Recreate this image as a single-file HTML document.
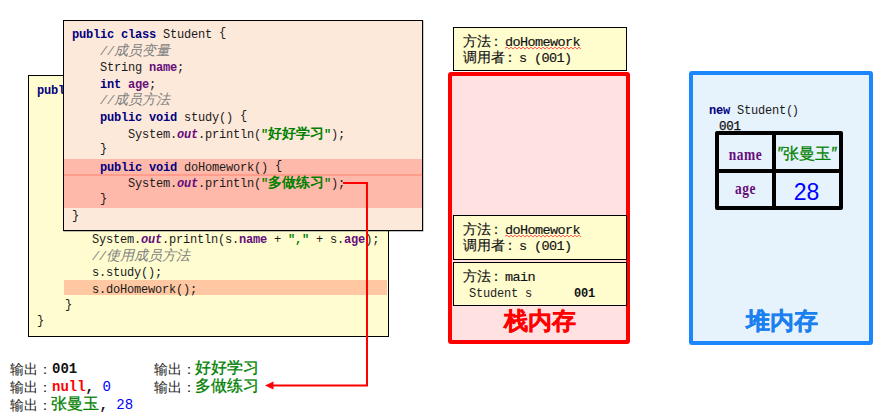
<!DOCTYPE html>
<html><head><meta charset="utf-8">
<style>
html,body{margin:0;padding:0;}
body{width:887px;height:416px;overflow:hidden;background:#fff;position:relative;font-family:'Liberation Sans', sans-serif;}
.abs{position:absolute;box-sizing:border-box;}
.cl{position:absolute;white-space:pre;font:12px/16.6px 'Liberation Mono', monospace;letter-spacing:-0.2px;color:#1a1a1a;}
.cl b,.cl i{font-weight:bold;font-style:normal;}
.cj{font-size:14px;letter-spacing:0;line-height:0;}
.br{position:relative;top:-2px;}
.kw{color:#000080;}
.fd{color:#660e7a;}
.cl b.ot{color:#660e7a;font-style:italic;}
.st{color:#008000;}
.cl i.cm{color:#808080;font-weight:normal;font-style:italic;}
#back{left:28px;top:75px;width:361px;height:262px;border:1px solid #000;background:#fffdd0;}
#front{left:63px;top:20px;width:360px;height:211px;border:1px solid #000;background:#fde9da;box-shadow:0.4px 0.4px 0.3px rgba(0,0,0,.5);}
#hl1{left:64px;top:159px;width:358px;height:49px;background:#ffb9aa;}
#hl1line{left:64px;top:174px;width:358px;height:2px;background:#ff9c8c;}
#hl2{left:64px;top:280px;width:323px;height:15px;background:#ffc8a2;}
.sbox{position:absolute;box-sizing:border-box;border:1px solid #000;background:#fffcce;}
.st1{position:absolute;white-space:pre;font:13.5px/16px 'Liberation Mono', monospace;letter-spacing:-0.6px;color:#111;-webkit-text-stroke:0.15px #111;}
.cn{position:relative;left:-2.5px;}
.st1 .cj{font-size:14px;line-height:0;letter-spacing:0;}
.o{position:absolute;white-space:pre;font:14px/18px 'Liberation Sans', sans-serif;color:#222;}
.ol{position:absolute;white-space:pre;font:bold 14px/18px 'Liberation Mono', monospace;color:#111;}
.og{position:absolute;white-space:pre;font:16px/18px 'Liberation Sans', sans-serif;color:#008000;-webkit-text-stroke:0.3px #008000;}
</style></head><body>
<div class="abs" id="back"></div>
<div class="abs" id="hl2"></div>
<div class="cl" style="left:37px;top:82.70px"><b class="kw">public</b> <b class="kw">class</b> Demo01Student <span class="br">{</span></div>
<div class="cl" style="left:92px;top:232.10px">System.<b class="ot">out</b>.println(s.<b class="fd">name</b> + <b class="st">","</b> + s.<b class="fd">age</b>);</div>
<div class="cl" style="left:92px;top:248.70px"><i class="cm">//<span class="cj">使用成员方法</span></i></div>
<div class="cl" style="left:92px;top:265.30px">s.study();</div>
<div class="cl" style="left:92px;top:281.90px">s.doHomework();</div>
<div class="cl" style="left:65px;top:298.50px"><span class="br">}</span></div>
<div class="cl" style="left:37px;top:315.10px"><span class="br">}</span></div>

<div class="abs" id="front"></div>
<div class="abs" id="hl1"></div>
<div class="abs" id="hl1line"></div>
<div class="cl" style="left:72px;top:26.90px"><b class="kw">public</b> <b class="kw">class</b> Student <span class="br">{</span></div>
<div class="cl" style="left:100px;top:43.50px"><i class="cm">//<span class="cj">成员变量</span></i></div>
<div class="cl" style="left:100px;top:60.10px">String <b class="fd">name</b>;</div>
<div class="cl" style="left:100px;top:76.70px"><b class="kw">int</b> <b class="fd">age</b>;</div>
<div class="cl" style="left:100px;top:93.30px"><i class="cm">//<span class="cj">成员方法</span></i></div>
<div class="cl" style="left:100px;top:109.90px"><b class="kw">public</b> <b class="kw">void</b> study() <span class="br">{</span></div>
<div class="cl" style="left:128px;top:126.50px">System.<b class="ot">out</b>.println(<b class="st">"<span class="cj">好好学习</span>"</b>);</div>
<div class="cl" style="left:100px;top:143.10px"><span class="br">}</span></div>
<div class="cl" style="left:100px;top:159.70px"><b class="kw">public</b> <b class="kw">void</b> doHomework() <span class="br">{</span></div>
<div class="cl" style="left:128px;top:176.30px">System.<b class="ot">out</b>.println(<b class="st">"<span class="cj">多做练习</span>"</b>);</div>
<div class="cl" style="left:100px;top:192.90px"><span class="br">}</span></div>
<div class="cl" style="left:72px;top:209.50px"><span class="br">}</span></div>


<svg class="abs" style="left:0;top:0" width="887" height="416">
<path d="M343 183 H367 V385.5 H272" fill="none" stroke="#ff0000" stroke-width="2"/>
<path d="M265 385.5 L273.5 381.5 L273.5 389.5 Z" fill="#ff0000"/>
</svg>

<div class="o" style="left:10px;top:360px">输出：</div>
<div class="o" style="left:10px;top:378px">输出：</div>
<div class="o" style="left:10px;top:396px">输出：</div>
<div class="ol" style="left:52px;top:360px">001</div>
<div class="ol" style="left:52px;top:378px"><span style="color:#f00">null</span>, <span style="color:#00f;font-weight:normal">0</span></div>
<div class="og" style="left:51px;top:395px">张曼玉</div>
<div class="ol" style="left:99.5px;top:396px">, <span style="color:#00f;font-weight:normal">28</span></div>
<div class="o" style="left:154px;top:360px">输出：</div>
<div class="o" style="left:154px;top:378px">输出：</div>
<div class="og" style="left:195px;top:359px">好好学习</div>
<div class="og" style="left:195px;top:377px">多做练习</div>

<div class="abs" style="left:448px;top:72px;width:182px;height:272px;border:4px solid #ff0000;border-radius:3px;background:#ffe1e1;"></div>
<div class="sbox" style="left:453px;top:27px;width:174px;height:44px;"></div>
<div class="st1" style="left:463px;top:35px"><span class="cj">方法<span class="cn">：</span></span>doHomework</div>
<div class="st1" style="left:463px;top:51px"><span class="cj">调用者<span class="cn">：</span></span>s (001)</div>
<div class="sbox" style="left:453px;top:215px;width:174px;height:45px;"></div>
<div class="st1" style="left:463px;top:223px"><span class="cj">方法<span class="cn">：</span></span>doHomework</div>
<div class="st1" style="left:463px;top:239px"><span class="cj">调用者<span class="cn">：</span></span>s (001)</div>
<div class="sbox" style="left:453px;top:262px;width:174px;height:44px;"></div>
<div class="st1" style="left:463px;top:270px"><span class="cj">方法<span class="cn">：</span></span>main</div>
<div class="cl" style="left:469px;top:285.5px;color:#222">Student s</div>
<div class="cl" style="left:574px;top:285.5px;font-weight:bold;color:#111">001</div>
<div class="abs" style="left:449px;top:303px;width:182px;text-align:center;font:bold 24px/36px 'Liberation Sans', sans-serif;color:#f00;-webkit-text-stroke:0.3px #f00">栈内存</div>

<div class="abs" style="left:689px;top:71px;width:184px;height:274px;border:4px solid #1a86ff;border-radius:3px;background:#e6f2fc;"></div>
<div class="cl" style="left:709px;top:102.8px"><b class="kw">new</b> Student<span style="letter-spacing:-1.6px">()</span></div>
<div class="st1" style="left:719px;top:119px;font-size:12.5px;letter-spacing:-0.2px;-webkit-text-stroke:0.25px #111">001</div>
<div class="abs" style="left:715px;top:131px;width:128px;height:79px;border:4px solid #000;border-radius:2px;"></div>
<div class="abs" style="left:772px;top:131px;width:4px;height:79px;background:#000;"></div>
<div class="abs" style="left:715px;top:169px;width:128px;height:4px;background:#000;"></div>
<div class="abs" style="left:719px;top:145px;width:53px;text-align:center;font:bold 16px/20px 'Liberation Serif', serif;color:#660e7a;transform:scaleX(0.84);letter-spacing:0.6px">name</div>
<div class="abs" style="left:719px;top:179px;width:53px;text-align:center;font:bold 16px/20px 'Liberation Serif', serif;color:#660e7a;transform:scaleX(0.84);letter-spacing:0.6px">age</div>
<div class="abs" style="left:776px;top:143px;width:63px;text-align:center;font:16px/22px 'Liberation Sans', sans-serif;color:#008000;-webkit-text-stroke:0.3px #008000">″张曼玉″</div>
<div class="abs" style="left:775px;top:178px;width:63px;text-align:center;font:23px/28px 'Liberation Sans', sans-serif;color:#0000ff">28</div>
<div class="abs" style="left:690px;top:303px;width:184px;text-align:center;font:bold 24px/36px 'Liberation Sans', sans-serif;color:#1a80f0;-webkit-text-stroke:0.3px #1a80f0">堆内存</div>
<svg class="abs" style="left:0;top:0" width="887" height="416">
<path d="M505 48.3 L507 47.099999999999994 L509 49.099999999999994 L511 47.099999999999994 L513 49.099999999999994 L515 47.099999999999994 L517 49.099999999999994 L519 47.099999999999994 L521 49.099999999999994 L523 47.099999999999994 L525 49.099999999999994 L527 47.099999999999994 L529 49.099999999999994 L531 47.099999999999994 L533 49.099999999999994 L535 47.099999999999994 L537 49.099999999999994 L539 47.099999999999994 L541 49.099999999999994 L543 47.099999999999994 L545 49.099999999999994 L547 47.099999999999994 L549 49.099999999999994 L551 47.099999999999994 L553 49.099999999999994 L555 47.099999999999994 L557 49.099999999999994 L559 47.099999999999994 L561 49.099999999999994 L563 47.099999999999994 L565 49.099999999999994 L567 47.099999999999994 L569 49.099999999999994 L571 47.099999999999994 L573 49.099999999999994 L575 47.099999999999994 L577 49.099999999999994 L579 47.099999999999994 L581 49.099999999999994" fill="none" stroke="#ff3c3c" stroke-width="0.9"/>
<path d="M505 236.3 L507 235.10000000000002 L509 237.10000000000002 L511 235.10000000000002 L513 237.10000000000002 L515 235.10000000000002 L517 237.10000000000002 L519 235.10000000000002 L521 237.10000000000002 L523 235.10000000000002 L525 237.10000000000002 L527 235.10000000000002 L529 237.10000000000002 L531 235.10000000000002 L533 237.10000000000002 L535 235.10000000000002 L537 237.10000000000002 L539 235.10000000000002 L541 237.10000000000002 L543 235.10000000000002 L545 237.10000000000002 L547 235.10000000000002 L549 237.10000000000002 L551 235.10000000000002 L553 237.10000000000002 L555 235.10000000000002 L557 237.10000000000002 L559 235.10000000000002 L561 237.10000000000002 L563 235.10000000000002 L565 237.10000000000002 L567 235.10000000000002 L569 237.10000000000002 L571 235.10000000000002 L573 237.10000000000002 L575 235.10000000000002 L577 237.10000000000002 L579 235.10000000000002 L581 237.10000000000002" fill="none" stroke="#ff3c3c" stroke-width="0.9"/>
</svg>
</body></html>
